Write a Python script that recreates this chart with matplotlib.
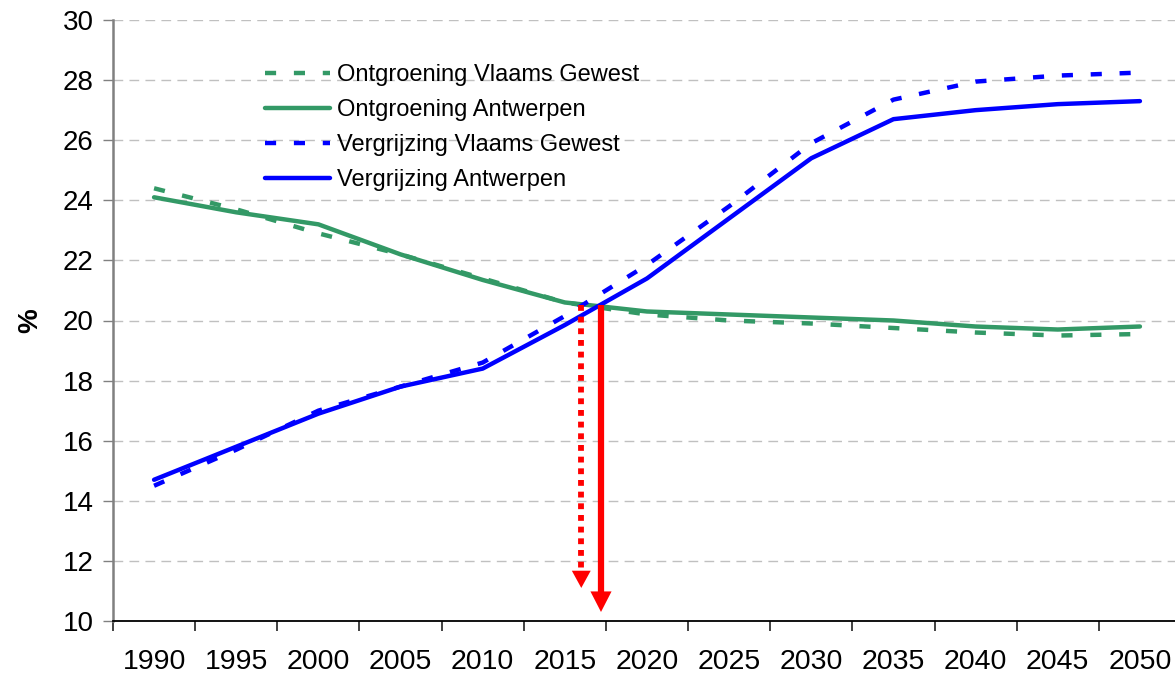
import numpy as np
import matplotlib
matplotlib.use("Agg")
import matplotlib.pyplot as plt

plt.rcParams['font.family'] = ['Liberation Sans', 'DejaVu Sans']

# data, every 5 years
years = ['1990', '1995', '2000', '2005', '2010', '2015', '2020',
         '2025', '2030', '2035', '2040', '2045', '2050']
ontgroening_vg = [24.4, 23.7, 22.9, 22.2, 21.4, 20.6, 20.2, 20.0, 19.9, 19.75, 19.6, 19.5, 19.55]
ontgroening_antw = [24.1, 23.6, 23.2, 22.2, 21.35, 20.6, 20.3, 20.2, 20.1, 20.0, 19.8, 19.7, 19.8]
vergrijzing_vg = [14.5, 15.7, 17.0, 17.8, 18.6, 20.15, 21.85, 23.8, 25.9, 27.35, 27.95, 28.15, 28.25]
vergrijzing_antw = [14.7, 15.8, 16.9, 17.8, 18.4, 19.85, 21.4, 23.4, 25.4, 26.7, 27.0, 27.2, 27.3]

# arrows marking the crossing point: (category index, start, tip)
arrow_vg = (5.2, 20.5, 11.1)
arrow_antw = (5.44, 20.5, 10.3)

green = '#339966'
blue = '#0000FF'
red = '#FF0000'

fig = plt.figure(figsize=(11.75, 6.76), dpi=100)
ax = fig.add_axes([113/1175, 55/676, 1068/1175, 601/676])

x = np.arange(len(years))
lw = 3.2
dash = (2.5, 4.0)
ax.plot(x, ontgroening_vg, color=green, lw=lw, dashes=dash, dash_capstyle='butt',
        label='Ontgroening Vlaams Gewest')
ax.plot(x, ontgroening_antw, color=green, lw=lw, solid_capstyle='round',
        label='Ontgroening Antwerpen')
ax.plot(x, vergrijzing_vg, color=blue, lw=lw, dashes=dash, dash_capstyle='butt',
        label='Vergrijzing Vlaams Gewest')
ax.plot(x, vergrijzing_antw, color=blue, lw=lw, solid_capstyle='round',
        label='Vergrijzing Antwerpen')


def arrow(a, head_len, head_w, shaft_lw, dotted):
    xa, y0, y1 = a
    # shaft stops inside the head
    ls = dict(dashes=(1.0, 1.0), dash_capstyle='butt') if dotted else dict(solid_capstyle='butt')
    ax.plot([xa, xa], [y0, y1 + 0.4], color=red, lw=shaft_lw, **ls)
    # filled head only
    ax.annotate('', xy=(xa, y1), xytext=(xa, y0),
                arrowprops=dict(arrowstyle=f'-|>,head_length={head_len},head_width={head_w}',
                                mutation_scale=20, color=red, lw=0,
                                shrinkA=0, shrinkB=0))


arrow(arrow_vg, 0.62, 0.34, 4.2, True)
arrow(arrow_antw, 0.74, 0.38, 4.5, False)

ax.set_xlim(-0.5, len(years) - 0.5)
ax.set_ylim(10, 30)
ax.set_yticks(np.arange(10, 31, 2))
ax.set_xticks(np.arange(-0.5, len(years), 1))
ax.set_xticklabels([])
ax.set_xticks(x, minor=True)
ax.set_xticklabels(years, minor=True)
ax.tick_params(axis='x', which='major', length=7, width=1.3, color='#333333', direction='out')
ax.tick_params(axis='x', which='minor', length=0, pad=20, labelsize=20.5)
ax.tick_params(axis='y', length=7, width=1, color='#808080', direction='out',
               labelsize=20, pad=7)

ax.grid(axis='y', color='#c0c0c0', lw=1, dashes=(7, 4.5))
ax.set_axisbelow(True)
for s in ['top', 'right']:
    ax.spines[s].set_visible(False)
ax.spines['left'].set_color('#808080')
ax.spines['left'].set_linewidth(1.8)
ax.spines['bottom'].set_color('#000000')
ax.spines['bottom'].set_linewidth(1.3)

ax.set_ylabel('%', fontsize=20, fontweight='bold', labelpad=14)

ax.legend(loc='upper left', bbox_to_anchor=(256/1175, 1 - 55/676),
          bbox_transform=fig.transFigure, frameon=False, fontsize=17,
          handlelength=2.75, handletextpad=0.28, labelspacing=0.55, borderaxespad=0)

fig.savefig('out.png', dpi=100)
